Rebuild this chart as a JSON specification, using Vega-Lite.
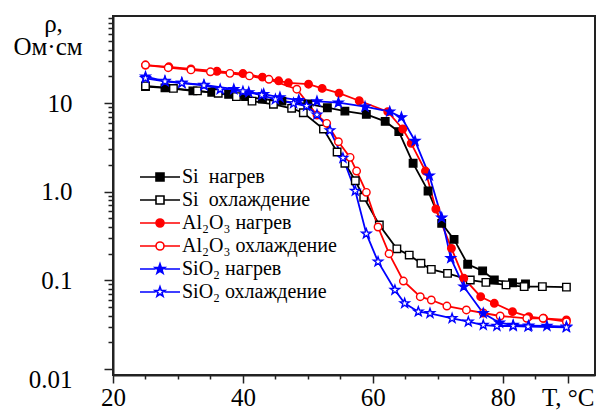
{
  "$schema": "https://vega.github.io/schema/vega-lite/v6.json",
  "width": 482,
  "height": 359,
  "autosize": "none",
  "padding": {"left": 113, "top": 16, "right": 3, "bottom": 35},
  "background": "white",
  "config": {"view": {"stroke": "#222", "strokeWidth": 2}, "font": "Liberation Serif"},
  "title": {"text": "Ом·см", "orient": "none", "anchor": "start", "frame": "group", "align": "center", "baseline": "top",
    "offset": 0, "dx": -65, "dy": 19, "font": "Liberation Serif", "fontSize": 25, "fontWeight": "normal", "color": "black"},
  "data": {"values": [
    {"s": "Si\u00a0 нагрев", "T": 25, "rho": 15.3}, {"s": "Si\u00a0 нагрев", "T": 28, "rho": 14.8}, {"s": "Si\u00a0 нагрев", "T": 32.3, "rho": 13.7}, {"s": "Si\u00a0 нагрев", "T": 35.2, "rho": 13.2}, {"s": "Si\u00a0 нагрев", "T": 37.8, "rho": 12.5}, {"s": "Si\u00a0 нагрев", "T": 40.4, "rho": 11.8}, {"s": "Si\u00a0 нагрев", "T": 43, "rho": 11.1}, {"s": "Si\u00a0 нагрев", "T": 46, "rho": 10.5}, {"s": "Si\u00a0 нагрев", "T": 50, "rho": 9.75}, {"s": "Si\u00a0 нагрев", "T": 53, "rho": 8.85}, {"s": "Si\u00a0 нагрев", "T": 55.7, "rho": 8.1}, {"s": "Si\u00a0 нагрев", "T": 59, "rho": 7.45}, {"s": "Si\u00a0 нагрев", "T": 61.9, "rho": 6.2}, {"s": "Si\u00a0 нагрев", "T": 64, "rho": 4.75}, {"s": "Si\u00a0 нагрев", "T": 66.2, "rho": 2.09}, {"s": "Si\u00a0 нагрев", "T": 68.5, "rho": 1.02}, {"s": "Si\u00a0 нагрев", "T": 70.6, "rho": 0.44}, {"s": "Si\u00a0 нагрев", "T": 72.5, "rho": 0.29}, {"s": "Si\u00a0 нагрев", "T": 74.6, "rho": 0.152}, {"s": "Si\u00a0 нагрев", "T": 76.9, "rho": 0.128}, {"s": "Si\u00a0 нагрев", "T": 78.7, "rho": 0.101}, {"s": "Si\u00a0 нагрев", "T": 81.5, "rho": 0.094}, {"s": "Si\u00a0 нагрев", "T": 83.5, "rho": 0.091},
    {"s": "Si\u00a0 охлаждение", "T": 25, "rho": 15.6}, {"s": "Si\u00a0 охлаждение", "T": 29.3, "rho": 14.6}, {"s": "Si\u00a0 охлаждение", "T": 33, "rho": 13.7}, {"s": "Si\u00a0 охлаждение", "T": 36.2, "rho": 12.9}, {"s": "Si\u00a0 охлаждение", "T": 39, "rho": 11.8}, {"s": "Si\u00a0 охлаждение", "T": 41.4, "rho": 10.5}, {"s": "Si\u00a0 охлаждение", "T": 44.7, "rho": 9.67}, {"s": "Si\u00a0 охлаждение", "T": 47.5, "rho": 8.71}, {"s": "Si\u00a0 охлаждение", "T": 49.3, "rho": 7.77}, {"s": "Si\u00a0 охлаждение", "T": 52.4, "rho": 5.09}, {"s": "Si\u00a0 охлаждение", "T": 54.5, "rho": 2.8}, {"s": "Si\u00a0 охлаждение", "T": 55.7, "rho": 2.09}, {"s": "Si\u00a0 охлаждение", "T": 57.3, "rho": 1.33}, {"s": "Si\u00a0 охлаждение", "T": 58.6, "rho": 0.865}, {"s": "Si\u00a0 охлаждение", "T": 61, "rho": 0.421}, {"s": "Si\u00a0 охлаждение", "T": 63.7, "rho": 0.227}, {"s": "Si\u00a0 охлаждение", "T": 65.6, "rho": 0.193}, {"s": "Si\u00a0 охлаждение", "T": 67.4, "rho": 0.156}, {"s": "Si\u00a0 охлаждение", "T": 69, "rho": 0.133}, {"s": "Si\u00a0 охлаждение", "T": 71.5, "rho": 0.12}, {"s": "Si\u00a0 охлаждение", "T": 75, "rho": 0.101}, {"s": "Si\u00a0 охлаждение", "T": 77.4, "rho": 0.095}, {"s": "Si\u00a0 охлаждение", "T": 80.5, "rho": 0.089}, {"s": "Si\u00a0 охлаждение", "T": 83.3, "rho": 0.085}, {"s": "Si\u00a0 охлаждение", "T": 86.1, "rho": 0.085}, {"s": "Si\u00a0 охлаждение", "T": 89.8, "rho": 0.084},
    {"s": "Al₂O₃ нагрев", "T": 25, "rho": 26.8}, {"s": "Al₂O₃ нагрев", "T": 28.6, "rho": 25.6}, {"s": "Al₂O₃ нагрев", "T": 32, "rho": 24.2}, {"s": "Al₂O₃ нагрев", "T": 36, "rho": 22.8}, {"s": "Al₂O₃ нагрев", "T": 40, "rho": 21.5}, {"s": "Al₂O₃ нагрев", "T": 43, "rho": 19.6}, {"s": "Al₂O₃ нагрев", "T": 45.5, "rho": 17.8}, {"s": "Al₂O₃ нагрев", "T": 47, "rho": 16.9}, {"s": "Al₂O₃ нагрев", "T": 50.1, "rho": 16.3}, {"s": "Al₂O₃ нагрев", "T": 52.2, "rho": 14.6}, {"s": "Al₂O₃ нагрев", "T": 54.8, "rho": 12.9}, {"s": "Al₂O₃ нагрев", "T": 57.9, "rho": 10.6}, {"s": "Al₂O₃ нагрев", "T": 62.3, "rho": 7.98}, {"s": "Al₂O₃ нагрев", "T": 64.6, "rho": 5.09}, {"s": "Al₂O₃ нагрев", "T": 65.9, "rho": 3.51}, {"s": "Al₂O₃ нагрев", "T": 68.1, "rho": 1.71}, {"s": "Al₂O₃ нагрев", "T": 69.7, "rho": 0.638}, {"s": "Al₂O₃ нагрев", "T": 72.1, "rho": 0.23}, {"s": "Al₂O₃ нагрев", "T": 74, "rho": 0.106}, {"s": "Al₂O₃ нагрев", "T": 76.6, "rho": 0.0655}, {"s": "Al₂O₃ нагрев", "T": 78.7, "rho": 0.0552}, {"s": "Al₂O₃ нагрев", "T": 81.5, "rho": 0.0444}, {"s": "Al₂O₃ нагрев", "T": 84, "rho": 0.039}, {"s": "Al₂O₃ нагрев", "T": 86.3, "rho": 0.0374}, {"s": "Al₂O₃ нагрев", "T": 89.8, "rho": 0.0358},
    {"s": "Al₂O₃ охлаждение", "T": 25, "rho": 26.8}, {"s": "Al₂O₃ охлаждение", "T": 28.5, "rho": 25.0}, {"s": "Al₂O₃ охлаждение", "T": 32, "rho": 23.6}, {"s": "Al₂O₃ охлаждение", "T": 35, "rho": 22.5}, {"s": "Al₂O₃ охлаждение", "T": 38, "rho": 21.6}, {"s": "Al₂O₃ охлаждение", "T": 41, "rho": 20.2}, {"s": "Al₂O₃ охлаждение", "T": 44, "rho": 18.5}, {"s": "Al₂O₃ охлаждение", "T": 48.3, "rho": 14.3}, {"s": "Al₂O₃ охлаждение", "T": 51.4, "rho": 7.32}, {"s": "Al₂O₃ охлаждение", "T": 52.9, "rho": 5.9}, {"s": "Al₂O₃ охлаждение", "T": 54.7, "rho": 3.66}, {"s": "Al₂O₃ охлаждение", "T": 56.5, "rho": 2.44}, {"s": "Al₂O₃ охлаждение", "T": 57.5, "rho": 1.71}, {"s": "Al₂O₃ охлаждение", "T": 59, "rho": 0.984}, {"s": "Al₂O₃ охлаждение", "T": 60.8, "rho": 0.4}, {"s": "Al₂O₃ охлаждение", "T": 62.5, "rho": 0.2}, {"s": "Al₂O₃ охлаждение", "T": 64.7, "rho": 0.0984}, {"s": "Al₂O₃ охлаждение", "T": 67.3, "rho": 0.0655}, {"s": "Al₂O₃ охлаждение", "T": 69, "rho": 0.0601}, {"s": "Al₂O₃ охлаждение", "T": 71.4, "rho": 0.0514}, {"s": "Al₂O₃ охлаждение", "T": 74.4, "rho": 0.0464}, {"s": "Al₂O₃ охлаждение", "T": 77, "rho": 0.0429}, {"s": "Al₂O₃ охлаждение", "T": 79.6, "rho": 0.0397}, {"s": "Al₂O₃ охлаждение", "T": 83.7, "rho": 0.0374}, {"s": "Al₂O₃ охлаждение", "T": 86.2, "rho": 0.0374}, {"s": "Al₂O₃ охлаждение", "T": 89.8, "rho": 0.0342},
    {"s": "SiO₂ нагрев", "T": 25, "rho": 19.8}, {"s": "SiO₂ нагрев", "T": 28, "rho": 17.7}, {"s": "SiO₂ нагрев", "T": 30.6, "rho": 16.9}, {"s": "SiO₂ нагрев", "T": 34, "rho": 16.0}, {"s": "SiO₂ нагрев", "T": 38.6, "rho": 14.3}, {"s": "SiO₂ нагрев", "T": 40.9, "rho": 13.2}, {"s": "SiO₂ нагрев", "T": 43.2, "rho": 12.6}, {"s": "SiO₂ нагрев", "T": 45.7, "rho": 11.6}, {"s": "SiO₂ нагрев", "T": 48.6, "rho": 10.8}, {"s": "SiO₂ нагрев", "T": 51.4, "rho": 10.45}, {"s": "SiO₂ нагрев", "T": 54.7, "rho": 10.1}, {"s": "SiO₂ нагрев", "T": 58.8, "rho": 9.08}, {"s": "SiO₂ нагрев", "T": 62.6, "rho": 7.98}, {"s": "SiO₂ нагрев", "T": 64.4, "rho": 6.9}, {"s": "SiO₂ нагрев", "T": 66.5, "rho": 3.73}, {"s": "SiO₂ нагрев", "T": 68.7, "rho": 1.52}, {"s": "SiO₂ нагрев", "T": 70.6, "rho": 0.509}, {"s": "SiO₂ нагрев", "T": 72, "rho": 0.178}, {"s": "SiO₂ нагрев", "T": 74, "rho": 0.085}, {"s": "SiO₂ нагрев", "T": 77, "rho": 0.0426}, {"s": "SiO₂ нагрев", "T": 79.5, "rho": 0.0333}, {"s": "SiO₂ нагрев", "T": 81.6, "rho": 0.0314}, {"s": "SiO₂ нагрев", "T": 84, "rho": 0.0309}, {"s": "SiO₂ нагрев", "T": 86.8, "rho": 0.0306}, {"s": "SiO₂ нагрев", "T": 89.8, "rho": 0.0301},
    {"s": "SiO₂ охлаждение", "T": 25, "rho": 19.0}, {"s": "SiO₂ охлаждение", "T": 28, "rho": 17.5}, {"s": "SiO₂ охлаждение", "T": 30.6, "rho": 16.8}, {"s": "SiO₂ охлаждение", "T": 34, "rho": 15.8}, {"s": "SiO₂ охлаждение", "T": 36.5, "rho": 14.3}, {"s": "SiO₂ охлаждение", "T": 40, "rho": 13.5}, {"s": "SiO₂ охлаждение", "T": 42.9, "rho": 12.3}, {"s": "SiO₂ охлаждение", "T": 45, "rho": 11.0}, {"s": "SiO₂ охлаждение", "T": 47.8, "rho": 9.92}, {"s": "SiO₂ охлаждение", "T": 49.8, "rho": 9.25}, {"s": "SiO₂ охлаждение", "T": 51.4, "rho": 7.38}, {"s": "SiO₂ охлаждение", "T": 53.4, "rho": 4.92}, {"s": "SiO₂ охлаждение", "T": 55.4, "rho": 2.4}, {"s": "SiO₂ охлаждение", "T": 57.3, "rho": 1.02}, {"s": "SiO₂ охлаждение", "T": 59, "rho": 0.336}, {"s": "SiO₂ охлаждение", "T": 60.8, "rho": 0.1625}, {"s": "SiO₂ охлаждение", "T": 63.4, "rho": 0.078}, {"s": "SiO₂ охлаждение", "T": 64.9, "rho": 0.0552}, {"s": "SiO₂ охлаждение", "T": 67, "rho": 0.0444}, {"s": "SiO₂ охлаждение", "T": 68.8, "rho": 0.0426}, {"s": "SiO₂ охлаждение", "T": 72.2, "rho": 0.0374}, {"s": "SiO₂ охлаждение", "T": 74.7, "rho": 0.0342}, {"s": "SiO₂ охлаждение", "T": 77, "rho": 0.0314}, {"s": "SiO₂ охлаждение", "T": 79.1, "rho": 0.0306}, {"s": "SiO₂ охлаждение", "T": 81.6, "rho": 0.0306}, {"s": "SiO₂ охлаждение", "T": 83.9, "rho": 0.0301}, {"s": "SiO₂ охлаждение", "T": 89.8, "rho": 0.0296}
  ]},
  "encoding": {
    "x": {"field": "T", "type": "quantitative",
      "scale": {"domain": [20, 94.2], "nice": false, "zero": false},
      "axis": {"values": [20, 25, 30, 35, 40, 45, 50, 55, 60, 65, 70, 75, 80, 85, 90], "title": null, "grid": false,
        "domainColor": "#222", "domainWidth": 2, "tickColor": "#222", "tickWidth": 1.5,
        "tickSize": {"condition": {"test": "datum.value % 20 == 0 || datum.value == 90", "value": 8}, "value": 4},
        "labelExpr": "datum.value == 90 ? 'T, °C' : (datum.value % 20 == 0 ? datum.label : '')",
        "labelFont": "Liberation Serif", "labelFontSize": 25, "labelColor": "black", "labelPadding": 2, "labelFlush": false, "labelOverlap": false}},
    "y": {"field": "rho", "type": "quantitative",
      "scale": {"type": "log", "domain": [0.00858, 95.7], "nice": false},
      "axis": {"values": [0.01, 0.02, 0.03, 0.04, 0.05, 0.06, 0.07, 0.08, 0.09, 0.1, 0.2, 0.3, 0.4, 0.5, 0.6, 0.7, 0.8, 0.9, 1, 2, 3, 4, 5, 6, 7, 8, 9, 10, 20, 30, 40, 50, 60, 70, 80, 90],
        "title": "ρ,", "titleAngle": 0, "titleX": -60, "titleY": 15, "titleAlign": "center", "titleBaseline": "alphabetic",
        "titleFont": "Liberation Serif", "titleFontSize": 25, "titleFontWeight": "normal", "titleColor": "black",
        "grid": false, "domainColor": "#222", "domainWidth": 2, "tickColor": "#222", "tickWidth": 1.5,
        "tickSize": {"condition": {"test": "datum.value == 10 || datum.value == 1 || datum.value == 0.1 || datum.value == 0.01", "value": 9}, "value": 5},
        "labelOffset": {"condition": {"test": "datum.value == 0.01", "value": 10}, "value": 0},
        "labelExpr": "datum.value == 10 ? '10' : datum.value == 1 ? '1.0' : datum.value == 0.1 ? '0.1' : datum.value == 0.01 ? '0.01' : ''",
        "labelFont": "Liberation Serif", "labelFontSize": 25, "labelColor": "black", "labelPadding": 32, "labelFlush": false, "labelOverlap": false}}
  },
  "layer": [
    {"mark": {"type": "line", "strokeWidth": 1.8},
     "encoding": {"color": {"field": "s", "type": "nominal",
       "scale": {"domain": ["Si\u00a0 нагрев", "Si\u00a0 охлаждение", "Al₂O₃ нагрев", "Al₂O₃ охлаждение", "SiO₂ нагрев", "SiO₂ охлаждение"], "range": ["#000000", "#000000", "#ff0000", "#ff0000", "#0000ff", "#0000ff"]},
       "legend": null}}},
    {"mark": {"type": "point", "strokeWidth": 1.4, "size": 56, "opacity": 1},
     "encoding": {
       "stroke": {"field": "s", "type": "nominal", "scale": {"domain": ["Si\u00a0 нагрев", "Si\u00a0 охлаждение", "Al₂O₃ нагрев", "Al₂O₃ охлаждение", "SiO₂ нагрев", "SiO₂ охлаждение"], "range": ["#000000", "#000000", "#ff0000", "#ff0000", "#0000ff", "#0000ff"]}, "legend": null},
       "fill": {"field": "s", "type": "nominal", "scale": {"domain": ["Si\u00a0 нагрев", "Si\u00a0 охлаждение", "Al₂O₃ нагрев", "Al₂O₃ охлаждение", "SiO₂ нагрев", "SiO₂ охлаждение"], "range": ["#000000", "#ffffff", "#ff0000", "#ffffff", "#0000ff", "#ffffff"]}, "legend": null},
       "shape": {"field": "s", "type": "nominal", "scale": {"domain": ["Si\u00a0 нагрев", "Si\u00a0 охлаждение", "Al₂O₃ нагрев", "Al₂O₃ охлаждение", "SiO₂ нагрев", "SiO₂ охлаждение"], "range": ["square", "square", "circle", "circle", "M0,-1.3L0.306,-0.421L1.236,-0.402L0.494,0.161L0.764,1.052L0,0.52L-0.764,1.052L-0.494,0.161L-1.236,-0.402L-0.306,-0.421Z", "M0,-1.3L0.306,-0.421L1.236,-0.402L0.494,0.161L0.764,1.052L0,0.52L-0.764,1.052L-0.494,0.161L-1.236,-0.402L-0.306,-0.421Z"]}, "legend": null}
     }},
    {"transform": [{"filter": "false"}],
     "mark": {"type": "point", "strokeWidth": 1.6, "size": 64, "opacity": 1},
     "encoding": {
       "stroke": {"field": "s", "type": "nominal", "scale": {"domain": ["Si\u00a0 нагрев", "Si\u00a0 охлаждение", "Al₂O₃ нагрев", "Al₂O₃ охлаждение", "SiO₂ нагрев", "SiO₂ охлаждение"], "range": ["#000000", "#000000", "#ff0000", "#ff0000", "#0000ff", "#0000ff"]},
         "legend": {"orient": "none", "legendX": 37, "legendY": 151, "title": null, "labelFont": "Liberation Serif", "labelFontSize": 20, "labelColor": "black", "labelLimit": 0, "symbolSize": 64, "symbolStrokeWidth": 1.6, "labelOffset": 12, "rowPadding": 3, "padding": 0}},
       "fill": {"field": "s", "type": "nominal", "scale": {"domain": ["Si\u00a0 нагрев", "Si\u00a0 охлаждение", "Al₂O₃ нагрев", "Al₂O₃ охлаждение", "SiO₂ нагрев", "SiO₂ охлаждение"], "range": ["#000000", "#ffffff", "#ff0000", "#ffffff", "#0000ff", "#ffffff"]},
         "legend": {"orient": "none", "legendX": 37, "legendY": 151, "title": null, "labelFont": "Liberation Serif", "labelFontSize": 20, "labelColor": "black", "labelLimit": 0, "symbolSize": 64, "symbolStrokeWidth": 1.6, "labelOffset": 12, "rowPadding": 3, "padding": 0}},
       "shape": {"field": "s", "type": "nominal", "scale": {"domain": ["Si\u00a0 нагрев", "Si\u00a0 охлаждение", "Al₂O₃ нагрев", "Al₂O₃ охлаждение", "SiO₂ нагрев", "SiO₂ охлаждение"], "range": [
           "M-5,0H-1M1,0H5M-1,-1H1V1H-1Z", "M-5,0H-1M1,0H5M-1,-1H1V1H-1Z",
           "M-5,0H-1M1,0H5M1,0A1,1,0,1,1,-1,0A1,1,0,1,1,1,0Z", "M-5,0H-1M1,0H5M1,0A1,1,0,1,1,-1,0A1,1,0,1,1,1,0Z",
           "M-5,0H-1.1M1.1,0H5M0,-1.3L0.306,-0.421L1.236,-0.402L0.494,0.161L0.764,1.052L0,0.52L-0.764,1.052L-0.494,0.161L-1.236,-0.402L-0.306,-0.421Z",
           "M-5,0H-1.1M1.1,0H5M0,-1.3L0.306,-0.421L1.236,-0.402L0.494,0.161L0.764,1.052L0,0.52L-0.764,1.052L-0.494,0.161L-1.236,-0.402L-0.306,-0.421Z"]},
         "legend": {"orient": "none", "legendX": 37, "legendY": 151, "title": null, "labelFont": "Liberation Serif", "labelFontSize": 20, "labelColor": "black", "labelLimit": 0, "symbolSize": 64, "symbolStrokeWidth": 1.6, "labelOffset": 12, "rowPadding": 3, "padding": 0}}
     }}
  ],
  "resolve": {"scale": {"shape": "independent", "stroke": "independent", "fill": "independent"}}
}
